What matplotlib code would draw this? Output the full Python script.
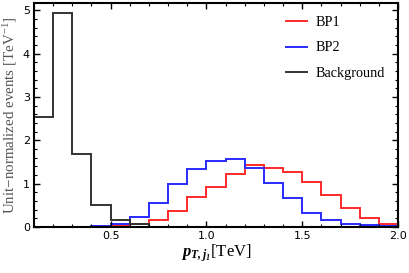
import numpy as np
import matplotlib
matplotlib.use("Agg")
import matplotlib.pyplot as plt
from matplotlib.ticker import MultipleLocator

bin_edges = [round(0.1 + 0.1 * i, 1) for i in range(20)]  # 0.1 .. 2.0

bp1 = [0.0, 0.0, 0.0, 0.0, 0.04, 0.06, 0.17, 0.37, 0.69, 0.92, 1.22, 1.42, 1.37, 1.26, 1.04, 0.73, 0.45, 0.20, 0.08]
bp2 = [0.0, 0.0, 0.0, 0.02, 0.06, 0.23, 0.56, 1.00, 1.34, 1.53, 1.56, 1.37, 1.02, 0.67, 0.33, 0.16, 0.08, 0.05, 0.03]
bkg = [2.55, 4.95, 1.68, 0.50, 0.17, 0.06, 0.01, 0.01, 0.0, 0.0, 0.0, 0.0, 0.0, 0.0, 0.0, 0.0, 0.0, 0.0, 0.0]

labels = ["BP1", "BP2", "Background"]
colors = ["#ff2a2a", "#2a2aff", "#333333"]

serif = "Liberation Serif"
plt.rcParams["mathtext.fontset"] = "custom"
plt.rcParams["mathtext.rm"] = serif
plt.rcParams["mathtext.it"] = serif + ":italic"
plt.rcParams["mathtext.bf"] = serif + ":bold:italic"

fig = plt.figure(figsize=(4.09, 2.73), dpi=100)
ax = fig.add_axes([34 / 409, 46 / 273, 364 / 409, 224 / 273])

for vals, lab, c in zip([bp1, bp2, bkg], labels, colors):
    ax.stairs(vals, bin_edges, color=c, lw=1.4, label=lab, baseline=None)

ax.set_xlim(0.1, 2.0)
ax.set_ylim(0, 5.17)
ax.xaxis.set_major_locator(MultipleLocator(0.5))
ax.xaxis.set_minor_locator(MultipleLocator(0.1))
ax.yaxis.set_major_locator(MultipleLocator(1))
ax.yaxis.set_minor_locator(MultipleLocator(0.2))
ax.tick_params(which="both", direction="in", top=True, right=True, labelsize=8, colors="black", pad=3)
ax.tick_params(which="major", length=4, width=1.0)
ax.tick_params(which="minor", length=2, width=0.8)
for s in ax.spines.values():
    s.set_linewidth(1.5)

ax.set_xticks([0.5, 1.0, 1.5, 2.0])
ax.set_xticklabels(["0.5", "1.0", "1.5", "2.0"])
ax.set_yticks([0, 1, 2, 3, 4, 5])

ax.set_xlabel(r"$\mathbf{p_{T,j_1}}$[TeV]", fontsize=12, family=serif, labelpad=1)
ax.set_ylabel(r"Unit$-$normalized events [TeV$^{-1}$]", fontsize=10.8, family=serif, color="#555555", labelpad=3)

leg = ax.legend(loc="upper right", frameon=False, prop={"family": serif, "size": 10.2},
                handlelength=1.5, labelspacing=0.9, borderaxespad=0.5, handletextpad=0.6)

fig.savefig("out.png", dpi=100)
